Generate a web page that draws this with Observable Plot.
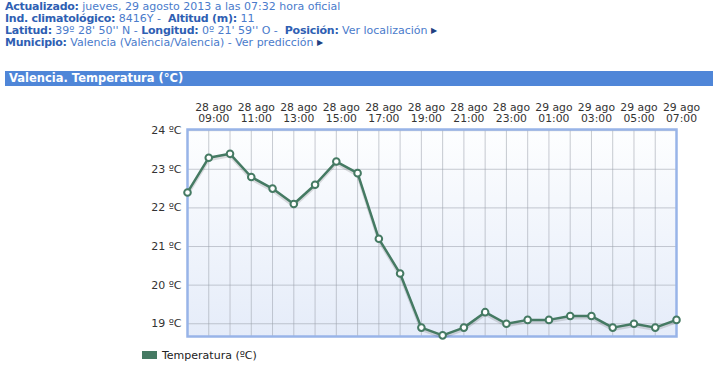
<!DOCTYPE html>
<html>
<head>
<meta charset="utf-8">
<script src="https://cdn.jsdelivr.net/npm/d3@7"></script>
<script src="https://cdn.jsdelivr.net/npm/@observablehq/plot@0.6"></script>
<style>
  body { margin: 0; background: #fff; font-family: "DejaVu Sans", Verdana, sans-serif; }
  #page { position: relative; width: 713px; height: 366px; overflow: hidden; }
  #header { position: absolute; left: 5px; top: 1px; font-size: 11px; line-height: 12px; color: #4a7bcb; white-space: nowrap; }
  #header b { color: #2f5fb3; letter-spacing: -0.25px; }
  .tri { font-size: 8px; color: #1f3f80; vertical-align: 1px; }
  #titlebar { position: absolute; left: 5px; top: 71px; width: 708px; height: 15px; background: #4f86d8; color: #fff; font-weight: bold; font-size: 11.5px; line-height: 15px; padding-left: 4px; box-sizing: border-box; }
  #chart { position: absolute; left: 0; top: 95px; }
  #legend { position: absolute; left: 142px; top: 349px; font-size: 11px; color: #222; line-height: 13px; white-space: nowrap; }
  #legend .sw { display: inline-block; width: 15px; height: 8px; background: #457a63; margin-right: 5px; vertical-align: 0px; }
</style>
</head>
<body>
<div id="page">
  <div id="header">
    <div><b>Actualizado:</b> jueves, 29 agosto 2013 a las 07:32 hora oficial</div>
    <div><b>Ind. climatológico:</b> 8416Y - &nbsp;<b>Altitud (m):</b> 11</div>
    <div><b>Latitud:</b> 39º 28' 50'' N - <b>Longitud:</b> 0º 21' 59'' O - &nbsp;<b>Posición:</b> Ver localización <span class="tri">&#9654;</span></div>
    <div><b>Municipio:</b> Valencia (València/Valencia) - Ver predicción <span class="tri">&#9654;</span></div>
  </div>
  <div id="titlebar">Valencia. Temperatura (°C)</div>
  <div id="chart"></div>
  <div id="legend"><span class="sw"></span>Temperatura (ºC)</div>
</div>
<script>
const times = [
  "2013-08-28T08:00Z","2013-08-28T09:00Z","2013-08-28T10:00Z","2013-08-28T11:00Z",
  "2013-08-28T12:00Z","2013-08-28T13:00Z","2013-08-28T14:00Z","2013-08-28T15:00Z",
  "2013-08-28T16:00Z","2013-08-28T17:00Z","2013-08-28T18:00Z","2013-08-28T19:00Z",
  "2013-08-28T20:00Z","2013-08-28T21:00Z","2013-08-28T22:00Z","2013-08-28T23:00Z",
  "2013-08-29T00:00Z","2013-08-29T01:00Z","2013-08-29T02:00Z","2013-08-29T03:00Z",
  "2013-08-29T04:00Z","2013-08-29T05:00Z","2013-08-29T06:00Z","2013-08-29T07:00Z"
];
const temperatures = [
  22.4, 23.3, 23.4, 22.8, 22.5, 22.1, 22.6, 23.2,
  22.9, 21.2, 20.3, 18.9, 18.7, 18.9, 19.3, 19.0,
  19.1, 19.1, 19.2, 19.2, 18.9, 19.0, 18.9, 19.1
];
const xTickTimes = [
  "2013-08-28T09:00Z","2013-08-28T11:00Z","2013-08-28T13:00Z","2013-08-28T15:00Z",
  "2013-08-28T17:00Z","2013-08-28T19:00Z","2013-08-28T21:00Z","2013-08-28T23:00Z",
  "2013-08-29T01:00Z","2013-08-29T03:00Z","2013-08-29T05:00Z","2013-08-29T07:00Z"
];
const xTickLabels = [
  "28 ago\n09:00","28 ago\n11:00","28 ago\n13:00","28 ago\n15:00",
  "28 ago\n17:00","28 ago\n19:00","28 ago\n21:00","28 ago\n23:00",
  "29 ago\n01:00","29 ago\n03:00","29 ago\n05:00","29 ago\n07:00"
];
const yTicks = [19, 20, 21, 22, 23, 24];
const yTickLabels = ["19 ºC", "20 ºC", "21 ºC", "22 ºC", "23 ºC", "24 ºC"];
const yDomain = [18.67, 24.03];

const data = times.map((t, i) => ({time: new Date(t), temp: temperatures[i]}));
const xTicks = xTickTimes.map(t => new Date(t));
const hourDates = times.map(t => new Date(t));

const defsMark = () => {
  const defs = document.createElementNS("http://www.w3.org/2000/svg", "defs");
  defs.innerHTML = '<linearGradient id="bgGrad" x1="0" y1="0" x2="0" y2="1">' +
    '<stop offset="0" stop-color="#fdfeff"/><stop offset="1" stop-color="#e5ecf9"/></linearGradient>';
  return defs;
};

const lineColor = "#457a63";

const chart = Plot.plot({
  width: 713,
  height: 247,
  marginLeft: 187,
  marginRight: 37,
  marginTop: 34,
  marginBottom: 6,
  style: {fontFamily: "DejaVu Sans, Verdana, sans-serif", fontSize: "11px", color: "#333", background: "transparent", overflow: "visible"},
  x: {type: "utc", domain: [hourDates[0], hourDates[hourDates.length - 1]]},
  y: {domain: yDomain},
  marks: [
    defsMark,
    Plot.frame({fill: "url(#bgGrad)", stroke: "none"}),
    Plot.gridX(hourDates, {stroke: "#9aa0ab", strokeOpacity: 0.55, strokeWidth: 1}),
    Plot.gridY(yTicks, {stroke: "#9aa0ab", strokeOpacity: 0.55, strokeWidth: 1}),
    Plot.frame({stroke: "#98b4e8", strokeWidth: 2.5}),
    Plot.axisX(xTicks, {anchor: "top", tickSize: 0, tickPadding: 8, dx: 5, fontSize: 10.8, tickFormat: (d, i) => xTickLabels[i], fill: "#333", label: null}),
    Plot.axisY(yTicks, {anchor: "left", tickSize: 0, tickPadding: 6, tickFormat: (d, i) => yTickLabels[i], fill: "#333", label: null}),
    Plot.line(data, {x: "time", y: "temp", stroke: "#000", strokeOpacity: 0.13, strokeWidth: 3, dy: 2}),
    Plot.line(data, {x: "time", y: "temp", stroke: lineColor, strokeWidth: 2.5}),
    Plot.dot(data, {x: "time", y: "temp", r: 3.3, fill: "#fff", stroke: lineColor, strokeWidth: 2})
  ]
});
document.getElementById("chart").appendChild(chart);
</script>
</body>
</html>
